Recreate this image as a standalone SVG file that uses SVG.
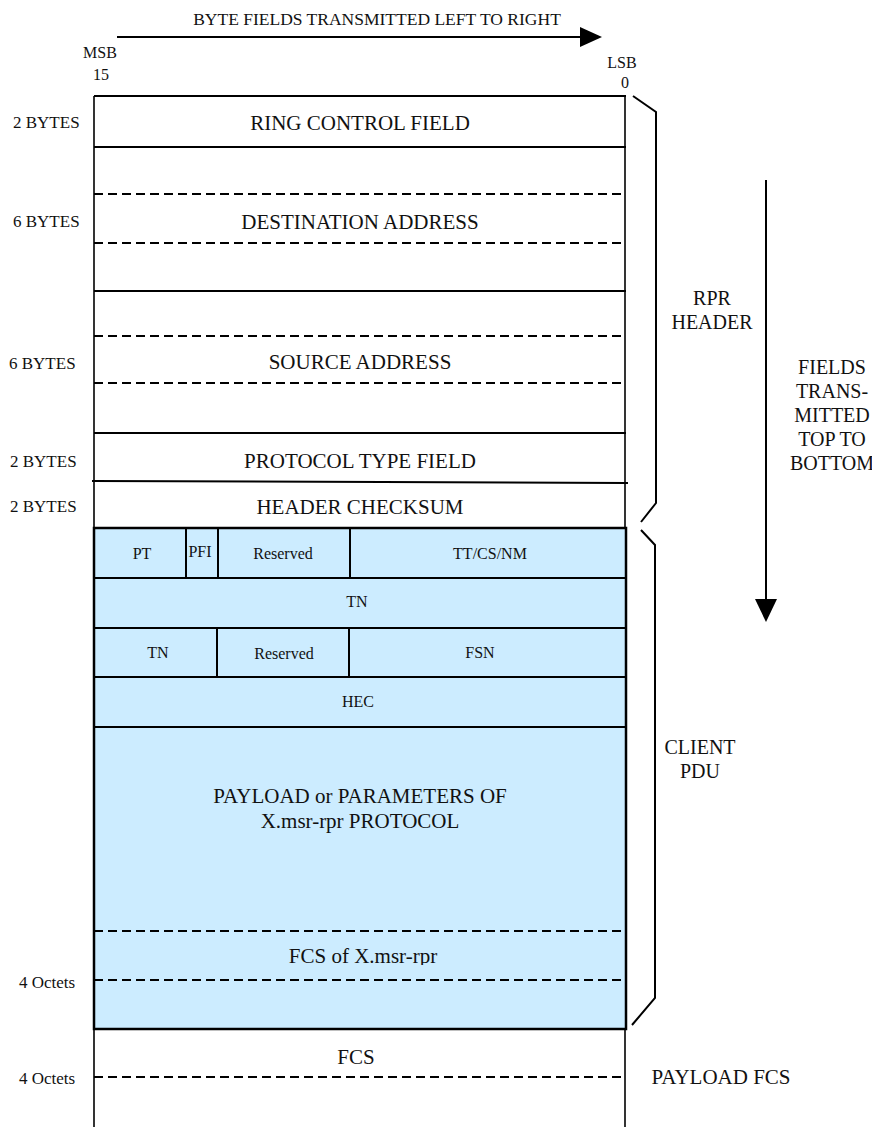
<svg xmlns="http://www.w3.org/2000/svg" width="872" height="1127" viewBox="0 0 872 1127" font-family="'Liberation Serif', 'DejaVu Serif', serif">
  <defs>
    <style>
      text { font-family: "Liberation Serif", "DejaVu Serif", serif; fill: #111; }
      .main { font-size: 21px; text-anchor: middle; }
      .sub { font-size: 16px; text-anchor: middle; }
      .side { font-size: 17px; }
      .note { font-size: 20px; text-anchor: middle; }
      .top { font-size: 16px; text-anchor: middle; }
      .solid { stroke: #000; stroke-width: 2; fill: none; }
      .dash { stroke: #000; stroke-width: 2; stroke-dasharray: 9 5; fill: none; }
      .edge { stroke: #000; stroke-width: 1.6; fill: none; }
      .brace { stroke: #000; stroke-width: 2; fill: none; stroke-linejoin: miter; }
      .client { fill: #ccecff; stroke: #000; stroke-width: 2.5; }
    </style>
    <clipPath id="fcsClip">
      <rect x="94" y="931" width="532" height="34"/>
    </clipPath>
  </defs>

  <!-- transmission order arrows and braces -->
  <g id="connectors">
    <line x1="117" y1="37" x2="582" y2="37" stroke="#000" stroke-width="2"/>
    <path d="M580,27 L602,37 L580,47 z" fill="#000"/>
    <line x1="766" y1="180" x2="766" y2="600" stroke="#000" stroke-width="2"/>
    <path d="M755,599 L777,599 L766,622 z" fill="#000"/>
    <path class="brace" d="M633,96 L656,112 L656,503 L641,522"/>
    <path class="brace" d="M641,530 L655,545 L655,998 L632,1025"/>
  </g>

  <g id="top-labels">
    <text class="top" x="377" y="25" style="font-size:17.5px">BYTE FIELDS TRANSMITTED LEFT TO RIGHT</text>
    <text class="top" x="100" y="58">MSB</text>
    <text class="top" x="101" y="80">15</text>
    <text class="top" x="622" y="68">LSB</text>
    <text class="top" x="625" y="88">0</text>
  </g>

  <!-- client PDU shaded block -->
  <g id="client-pdu">
    <rect class="client" x="94" y="528" width="532" height="501"/>
    <line class="solid" x1="94" y1="578" x2="626" y2="578"/>
    <line class="solid" x1="94" y1="628" x2="626" y2="628"/>
    <line class="solid" x1="94" y1="677" x2="626" y2="677"/>
    <line class="solid" x1="94" y1="727" x2="626" y2="727"/>
    <line class="solid" x1="186" y1="528" x2="186" y2="578"/>
    <line class="solid" x1="218" y1="528" x2="218" y2="578"/>
    <line class="solid" x1="350" y1="528" x2="350" y2="578"/>
    <line class="solid" x1="217" y1="628" x2="217" y2="677"/>
    <line class="solid" x1="349" y1="628" x2="349" y2="677"/>
    <line class="dash" x1="94" y1="931" x2="626" y2="931"/>
    <line class="dash" x1="94" y1="980" x2="626" y2="980"/>
    <text class="sub" x="142" y="559">PT</text>
    <text class="sub" x="200" y="557">PFI</text>
    <text class="sub" x="283" y="559">Reserved</text>
    <text class="sub" x="490" y="559">TT/CS/NM</text>
    <text class="sub" x="357" y="607">TN</text>
    <text class="sub" x="158" y="658">TN</text>
    <text class="sub" x="284" y="659">Reserved</text>
    <text class="sub" x="480" y="658">FSN</text>
    <text class="sub" x="358" y="707">HEC</text>
    <text class="main" x="360" y="803">PAYLOAD or PARAMETERS OF</text>
    <text class="main" x="360" y="828">X.msr-rpr PROTOCOL</text>
    <text class="main" x="363" y="963" clip-path="url(#fcsClip)">FCS of X.msr-rpr</text>
  </g>

  <!-- RPR header fields -->
  <g id="rpr-header">
    <line class="edge" x1="94" y1="96" x2="94" y2="528"/>
    <line class="edge" x1="625" y1="96" x2="625" y2="528"/>
    <line class="solid" x1="94" y1="96" x2="626" y2="96"/>
    <line class="solid" x1="94" y1="147" x2="626" y2="147"/>
    <line class="dash" x1="94" y1="194" x2="626" y2="194"/>
    <line class="dash" x1="94" y1="243" x2="626" y2="243"/>
    <line class="solid" x1="94" y1="291" x2="626" y2="291"/>
    <line class="dash" x1="94" y1="336" x2="626" y2="336"/>
    <line class="dash" x1="94" y1="383" x2="626" y2="383"/>
    <line class="solid" x1="94" y1="433" x2="626" y2="433"/>
    <line class="solid" x1="92" y1="481" x2="628" y2="483"/>
    <text class="main" x="360" y="130">RING CONTROL FIELD</text>
    <text class="main" x="360" y="229">DESTINATION ADDRESS</text>
    <text class="main" x="360" y="369">SOURCE ADDRESS</text>
    <text class="main" x="360" y="468">PROTOCOL TYPE FIELD</text>
    <text class="main" x="360" y="514">HEADER CHECKSUM</text>
  </g>

  <!-- payload FCS -->
  <g id="payload-fcs">
    <line class="edge" x1="94" y1="1029" x2="94" y2="1127"/>
    <line class="edge" x1="625" y1="1029" x2="625" y2="1127"/>
    <line class="dash" x1="94" y1="1077" x2="626" y2="1077"/>
    <text class="main" x="356" y="1064">FCS</text>
  </g>

  <g id="size-labels">
    <text class="side" x="13" y="128">2 BYTES</text>
    <text class="side" x="13" y="227">6 BYTES</text>
    <text class="side" x="9" y="369">6 BYTES</text>
    <text class="side" x="10" y="467">2 BYTES</text>
    <text class="side" x="10" y="512">2 BYTES</text>
    <text class="side" x="19" y="988">4 Octets</text>
    <text class="side" x="19" y="1084">4 Octets</text>
  </g>

  <g id="side-notes">
    <text class="note" x="712" y="305">RPR</text>
    <text class="note" x="712" y="329">HEADER</text>
    <text class="note" x="832" y="374">FIELDS</text>
    <text class="note" x="832" y="398">TRANS-</text>
    <text class="note" x="832" y="422">MITTED</text>
    <text class="note" x="832" y="446">TOP TO</text>
    <text class="note" x="832" y="470">BOTTOM</text>
    <text class="note" x="700" y="754">CLIENT</text>
    <text class="note" x="700" y="778">PDU</text>
    <text class="note" x="721" y="1084" style="font-size:21px">PAYLOAD FCS</text>
  </g>
</svg>
